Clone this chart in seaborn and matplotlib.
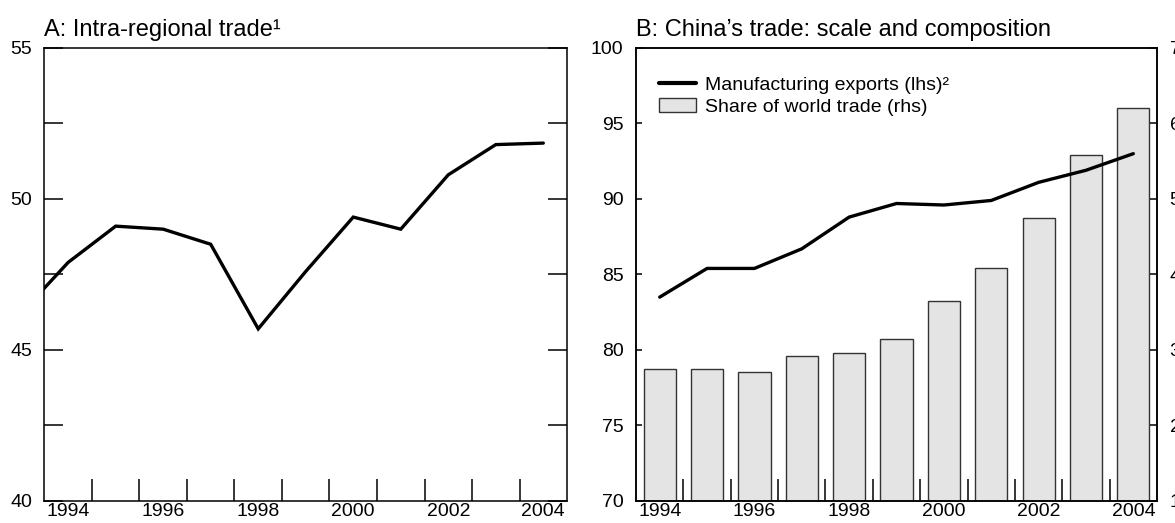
import numpy as np
import matplotlib
matplotlib.use("Agg")
import matplotlib.pyplot as plt
from matplotlib.lines import Line2D
from matplotlib.patches import Patch
import seaborn as sns

# ---- data -------------------------------------------------------------
# Panel A: intra-regional trade share (annual, plotted at mid-year)
years_a = [1993, 1994, 1995, 1996, 1997, 1998, 1999, 2000, 2001, 2002, 2003, 2004]
intra_regional = [46.2, 47.9, 49.1, 49.0, 48.5, 45.7, 47.6, 49.4, 49.0, 50.8, 51.8, 51.85]

# Panel B: China's trade
years_b = [1994, 1995, 1996, 1997, 1998, 1999, 2000, 2001, 2002, 2003, 2004]
manuf_exports = [83.5, 85.4, 85.4, 86.7, 88.8, 89.7, 89.6, 89.9, 91.1, 91.9, 93.0]   # lhs
world_share = [2.75, 2.75, 2.71, 2.92, 2.96, 3.14, 3.65, 4.08, 4.75, 5.58, 6.21]      # rhs

year_labels = ["1994", "1996", "1998", "2000", "2002", "2004"]
lhs_a_ticks = [40, 45, 50, 55]
lhs_b_ticks = [70, 75, 80, 85, 90, 95, 100]
rhs_b_ticks = [1, 2, 3, 4, 5, 6, 7]

title_a = "A: Intra-regional trade\u00b9"
title_b = "B: China\u2019s trade: scale and composition"
legend_line = "Manufacturing exports (lhs)\u00b2"
legend_bar = "Share of world trade (rhs)"

# ---- style ------------------------------------------------------------
sns.set_style("ticks")
plt.rcParams["font.family"] = ["Liberation Sans", "DejaVu Sans"]
plt.rcParams["axes.edgecolor"] = "black"
plt.rcParams["axes.linewidth"] = 1.1
plt.rcParams["text.color"] = "black"
plt.rcParams["axes.labelcolor"] = "black"
plt.rcParams["axes.titlecolor"] = "black"
plt.rcParams["xtick.color"] = "black"
plt.rcParams["ytick.color"] = "black"
plt.rcParams["legend.labelcolor"] = "black"

TICK_FS = 14
TITLE_FS = 17
LINE_W = 2.4
BAR_FACE = "#e4e4e4"
BAR_EDGE = "#333333"

fig = plt.figure(figsize=(11.75, 5.23), dpi=100)


def year_axis(ax):
    """Year boundaries as inward ticks, labels centred on every other year."""
    ax.set_xlim(1994, 2005)
    ax.set_xticks(np.arange(1995, 2005))
    ax.set_xticklabels([])
    ax.set_xticks([int(y) + 0.5 for y in year_labels], year_labels, minor=True)
    ax.tick_params(axis="x", which="major", direction="in", length=15.8, width=1.1,
                   bottom=True, top=False, color="black")
    ax.tick_params(axis="x", which="minor", length=0, pad=1.5, labelsize=TICK_FS,
                   bottom=True, top=False, labelcolor="black")


# ---- panel A ----------------------------------------------------------
ax_a = fig.add_axes([0.0378, 0.0421, 0.4448, 0.8662])
sns.lineplot(x=np.array(years_a) + 0.5, y=intra_regional, ax=ax_a,
             color="black", linewidth=LINE_W, solid_joinstyle="miter")
ax_a.set_ylim(40, 55)
year_axis(ax_a)
ax_a.set_yticks(lhs_a_ticks)
ax_a.set_yticks([42.5, 47.5, 52.5], minor=True)
ax_a.tick_params(axis="y", which="both", direction="in", length=13.8, width=1.1,
                 left=True, right=True, labelsize=TICK_FS, pad=9, color="black",
                 labelcolor="black")
ax_a.set_xlabel("")
ax_a.set_ylabel("")
ax_a.set_title(title_a, loc="left", fontsize=TITLE_FS, pad=8.6, color="black")

# ---- panel B ----------------------------------------------------------
ax_b = fig.add_axes([0.5413, 0.0421, 0.4434, 0.8662])
ax_b2 = ax_b.twinx()

# bars on the right-hand scale
sns.barplot(x=np.array(years_b) + 0.5, y=world_share, ax=ax_b2, native_scale=True,
            width=0.68, color=BAR_FACE, saturation=1, edgecolor=BAR_EDGE, linewidth=1.0)
ax_b2.set_ylim(1, 7)
ax_b2.set_yticks(rhs_b_ticks)
ax_b2.tick_params(axis="y", direction="in", length=5, width=1.1, labelsize=TICK_FS,
                  pad=9, right=True, left=False, color="black", labelcolor="black")
ax_b2.set_ylabel("")

# line on the left-hand scale, kept above the bars
sns.lineplot(x=np.array(years_b) + 0.5, y=manuf_exports, ax=ax_b,
             color="black", linewidth=LINE_W, solid_joinstyle="miter")
ax_b.set_zorder(ax_b2.get_zorder() + 1)
ax_b.patch.set_visible(False)
ax_b.set_ylim(70, 100)
ax_b.set_yticks(lhs_b_ticks)
ax_b.tick_params(axis="y", direction="in", length=4.5, width=1.1, labelsize=TICK_FS,
                 pad=9, left=True, right=False, color="black", labelcolor="black")
year_axis(ax_b)
ax_b2.set_xlim(1994, 2005)
ax_b.set_xlabel("")
ax_b.set_ylabel("")
ax_b.set_title(title_b, loc="left", fontsize=TITLE_FS, pad=8.6, color="black")

handles = [Line2D([], [], color="black", linewidth=3.0),
           Patch(facecolor=BAR_FACE, edgecolor=BAR_EDGE, linewidth=1.0)]
ax_b.legend(handles, [legend_line, legend_bar], loc="upper left",
            bbox_to_anchor=(0.044, 0.937), frameon=False, fontsize=TICK_FS,
            borderpad=0, borderaxespad=0, handlelength=1.9, handletextpad=0.45,
            labelspacing=0.22, handleheight=0.7, labelcolor="black")

fig.savefig("out.png", dpi=100)
